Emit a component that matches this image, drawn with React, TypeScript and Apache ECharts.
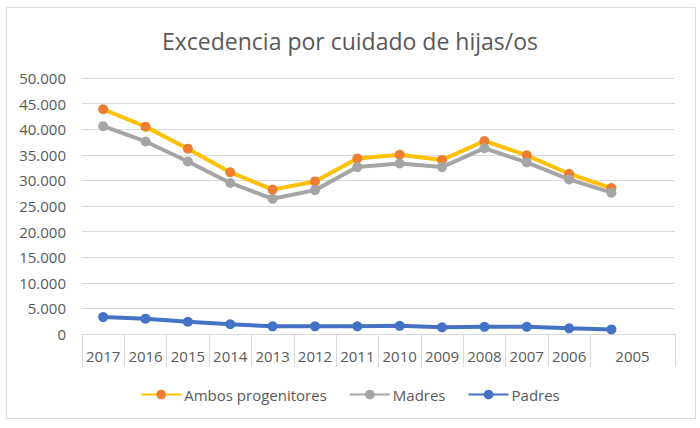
import React, { useEffect, useRef } from "react";
import * as echarts from "echarts";

const years = ["2017", "2016", "2015", "2014", "2013", "2012", "2011", "2010", "2009", "2008", "2007", "2006", "2005", ""];
const ambos = [43900, 40500, 36200, 31600, 28200, 29800, 34300, 35000, 34000, 37700, 34900, 31300, 28500];
const madres = [40600, 37600, 33700, 29500, 26400, 28100, 32600, 33300, 32600, 36300, 33500, 30200, 27600];
const padres = [3300, 3000, 2400, 1900, 1500, 1500, 1500, 1600, 1300, 1400, 1400, 1100, 900];
const yTicks = { min: 0, max: 50000, interval: 5000 };

const FONT = "Open Sans";
const TXT = "#595959";
const GRID = "#d9d9d9";

function fmt(v: number) {
  return String(v).replace(/\B(?=(\d{3})+(?!\d))/g, ".");
}

export default function App() {
  const ref = useRef<HTMLDivElement>(null);
  useEffect(() => {
    if (!ref.current) return;
    const chart = echarts.init(ref.current, undefined, { renderer: "svg" });
    const mk = (name: string, data: number[], line: string, dot: string) => ({
      name,
      type: "line",
      data,
      symbol: "circle",
      symbolSize: 10,
      showSymbol: true,
      lineStyle: { color: line, width: 4 },
      itemStyle: { color: dot },
      emphasis: { disabled: true },
    });
    chart.setOption({
      animation: false,
      backgroundColor: "#ffffff",
      textStyle: { fontFamily: FONT },
      title: {
        text: "Excedencia por cuidado de hijas/os",
        left: "center",
        top: 24,
        textStyle: { fontFamily: FONT, fontSize: 23, fontWeight: "normal", color: TXT },
      },
      graphic: [
        {
          type: "rect",
          shape: { x: 6.5, y: 7.5, width: 689, height: 411 },
          style: { fill: "none", stroke: GRID, lineWidth: 1 },
          silent: true,
        },
      ],
      legend: {
        top: 382,
        left: "center",
        itemWidth: 40,
        itemHeight: 12,
        itemGap: 22,
        textStyle: { fontFamily: FONT, fontSize: 15, color: TXT, padding: [0, 0, 0, -2] },
        data: ["Ambos progenitores", "Madres", "Padres"],
      },
      grid: { left: 82, right: 25, top: 78, bottom: 94, containLabel: false },
      xAxis: {
        type: "category",
        data: years,
        boundaryGap: true,
        axisLine: { show: true, lineStyle: { color: GRID, width: 1 } },
        axisTick: {
          show: true,
          length: 33,
          interval: (index: number) => index !== 13,
          lineStyle: { color: GRID, width: 1 },
        },
        axisLabel: {
          interval: 0,
          margin: 14,
          fontFamily: FONT,
          fontSize: 15,
          color: TXT,
          formatter: (v: string) => (v === "2005" ? "{p|2005}" : v),
          rich: {
            p: { padding: [0, 0, 0, 42], fontFamily: FONT, fontSize: 15, color: TXT },
          },
        },
        splitLine: { show: false },
      },
      yAxis: {
        type: "value",
        min: yTicks.min,
        max: yTicks.max,
        interval: yTicks.interval,
        axisLine: { show: false },
        axisTick: { show: false },
        axisLabel: { margin: 16, fontFamily: FONT, fontSize: 15, color: TXT, formatter: (v: number) => fmt(v) },
        splitLine: { lineStyle: { color: GRID, width: 1 } },
      },
      series: [
        mk("Ambos progenitores", ambos, "#FFC000", "#ED7D31"),
        mk("Madres", madres, "#A5A5A5", "#A5A5A5"),
        mk("Padres", padres, "#4472C4", "#4472C4"),
      ],
    });
    return () => chart.dispose();
  }, []);
  return (
    <div
      ref={ref}
      style={{ position: "fixed", left: 0, top: 0, width: 700, height: 428 }}
    />
  );
}
